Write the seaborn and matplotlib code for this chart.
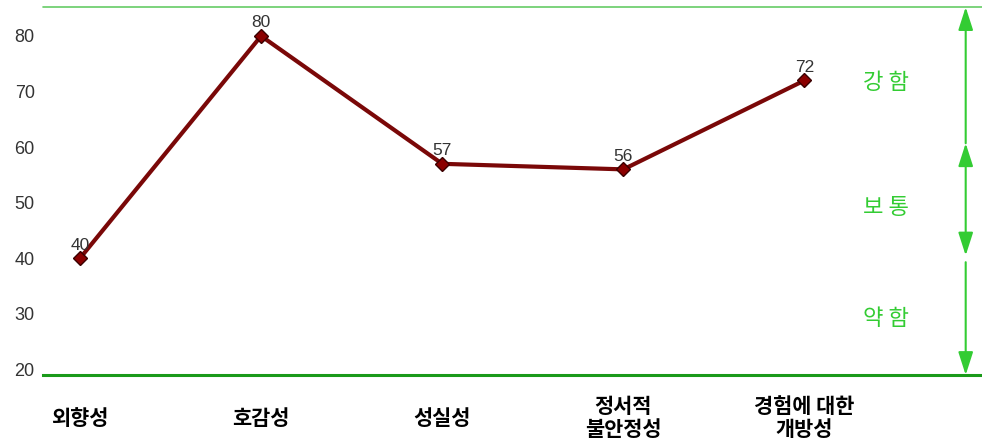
import pandas as pd
import matplotlib.pyplot as plt
import seaborn as sns

# Chart data
traits = ['외향성', '호감성', '성실성', '정서적\n불안정성', '경험에 대한\n개방성']
scores = [40, 80, 57, 56, 72]
yticks = [20, 30, 40, 50, 60, 70, 80]
level_names = ['강 함', '보 통', '약 함']
level_bounds = [85.2, 60.7, 40.5, 39.3, 19.0]
level_label_y = [71.7, 49.2, 29.2]

df = pd.DataFrame({'pos': range(len(traits)), 'score': scores})

sns.set_style('white')
plt.rcParams['font.family'] = ['Noto Sans CJK KR', 'DejaVu Sans']

fig = plt.figure(figsize=(9.82, 4.43), dpi=100)
ax = fig.add_axes([0.0438, 0.1535, 0.9562, 0.8305])

sns.lineplot(data=df, x='pos', y='score', ax=ax, color='#7a0808', linewidth=3,
             marker='D', markersize=7.5, markerfacecolor='#8b0000',
             markeredgecolor='#3a0000', markeredgewidth=1)

# value labels
for i, v in enumerate(scores):
    ax.text(i, v + 1.0, str(v), ha='center', va='bottom', fontsize=12.5,
            color='#333333', family=['Liberation Sans', 'DejaVu Sans'])

ax.set_xlim(-0.204, 4.98)
ax.set_ylim(level_bounds[-1], level_bounds[0])
ax.set_xticks(range(len(traits)))
ax.set_xticklabels(traits, fontsize=15, fontweight='bold', color='black',
                   linespacing=1.15, va='center')
ax.tick_params(axis='x', length=0, pad=31)
ax.set_yticks(yticks)
ax.set_yticklabels([str(t) for t in yticks], fontsize=13, color='#333333',
                   family=['Liberation Sans', 'DejaVu Sans'])
ax.tick_params(axis='y', length=0, pad=6)
ax.set_xlabel('')
ax.set_ylabel('')

for side in ['left', 'right', 'top']:
    ax.spines[side].set_visible(False)
ax.spines['bottom'].set_color('#1a9a1a')
ax.spines['bottom'].set_linewidth(2.2)
ax.axhline(level_bounds[0], color='#66cc66', linewidth=1.2, clip_on=False)

# level arrows on the right
arrow_x = 4.89
green = '#33cc33'
head = '-|>,head_length=1.4,head_width=0.45'
ax.annotate('', xy=(arrow_x, level_bounds[0]), xytext=(arrow_x, level_bounds[1]),
            arrowprops=dict(arrowstyle=head, color=green, lw=1.5,
                            mutation_scale=10, shrinkA=0, shrinkB=0),
            annotation_clip=False)
ax.annotate('', xy=(arrow_x, level_bounds[2]), xytext=(arrow_x, level_bounds[1]),
            arrowprops=dict(arrowstyle='<|-|>,head_length=1.4,head_width=0.45',
                            color=green, lw=1.5, mutation_scale=10,
                            shrinkA=0, shrinkB=0),
            annotation_clip=False)
ax.annotate('', xy=(arrow_x, level_bounds[4]), xytext=(arrow_x, level_bounds[3]),
            arrowprops=dict(arrowstyle=head, color=green, lw=1.5,
                            mutation_scale=10, shrinkA=0, shrinkB=0),
            annotation_clip=False)

for name, y in zip(level_names, level_label_y):
    ax.text(4.45, y, name, ha='center', va='center', fontsize=16, color=green)

fig.savefig('out.png', dpi=100)
